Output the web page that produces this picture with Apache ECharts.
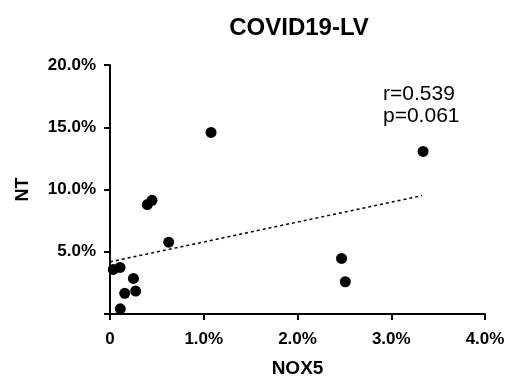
<!DOCTYPE html>
<html>
<head>
<meta charset="utf-8">
<script src="https://cdn.jsdelivr.net/npm/echarts@6/dist/echarts.min.js"></script>
<style>html,body{margin:0;padding:0;background:#fff}#c{width:517px;height:380px}</style>
</head>
<body>
<div id="c"></div>
<script>
const nox5 = [0.035, 0.107, 0.25, 0.157, 0.274, 0.11, 0.398, 0.448, 0.626, 2.47, 2.51, 1.078, 3.34];
const nt   = [3.58, 3.74, 2.86, 1.66, 1.84, 0.42, 8.79, 9.13, 5.77, 4.46, 2.59, 14.58, 13.06];
const fitX = [0, 3.33];
const fitY = [4.19, 9.51];
const xTicks = [0, 1, 2, 3, 4];
const yTicks = [0, 5, 10, 15, 20];
const statsText = ['r=0.539', 'p=0.061'];

const font = 'Arial, "Liberation Sans", sans-serif';
const chart = echarts.init(document.getElementById('c'));
chart.setOption({
  animation: false,
  backgroundColor: '#fff',
  title: [
    {text: 'COVID19-LV', left: 294, top: 11, textAlign: 'center',
     textStyle: {fontFamily: font, fontWeight: 'bold', fontSize: 24, color: '#000'}},
    {text: statsText.join('\n'), left: 378, top: 78,
     textStyle: {fontFamily: font, fontWeight: 'normal', fontSize: 21, lineHeight: 22, color: '#000'}}
  ],
  grid: {left: 110, right: 32, top: 65, bottom: 66, containLabel: false, outerBoundsMode: 'none'},
  xAxis: {
    type: 'value', min: xTicks[0], max: xTicks[xTicks.length - 1], interval: 1,
    name: 'NOX5', nameLocation: 'middle', nameGap: 45,
    nameTextStyle: {fontFamily: font, fontWeight: 'bold', fontSize: 19, color: '#000'},
    axisLine: {lineStyle: {color: '#000', width: 2}},
    axisTick: {show: true, length: 6, lineStyle: {color: '#000', width: 2}},
    axisLabel: {fontFamily: font, fontWeight: 'bold', fontSize: 17, color: '#000', margin: 17,
      formatter: v => v === 0 ? '0' : v.toFixed(1) + '%'},
    splitLine: {show: false}
  },
  yAxis: {
    type: 'value', min: yTicks[0], max: yTicks[yTicks.length - 1], interval: 5,
    name: 'NT', nameLocation: 'middle', nameGap: 78, nameRotate: 90,
    nameTextStyle: {fontFamily: font, fontWeight: 'bold', fontSize: 18, color: '#000'},
    axisLine: {show: true, lineStyle: {color: '#000', width: 2}},
    axisTick: {show: true, length: 6, lineStyle: {color: '#000', width: 2}},
    axisLabel: {fontFamily: font, fontWeight: 'bold', fontSize: 17, color: '#000', margin: 14,
      formatter: v => v === 0 ? '' : v.toFixed(1) + '%'},
    splitLine: {show: false}
  },
  series: [
    {type: 'line', data: fitX.map((x, i) => [x, fitY[i]]), showSymbol: false, symbol: 'none',
     lineStyle: {color: '#000', width: 1.5, type: [3, 3]}, z: 1},
    {type: 'scatter', data: nox5.map((x, i) => [x, nt[i]]), symbolSize: 11,
     itemStyle: {color: '#000', opacity: 1}, z: 2}
  ]
});
</script>
</body>
</html>
